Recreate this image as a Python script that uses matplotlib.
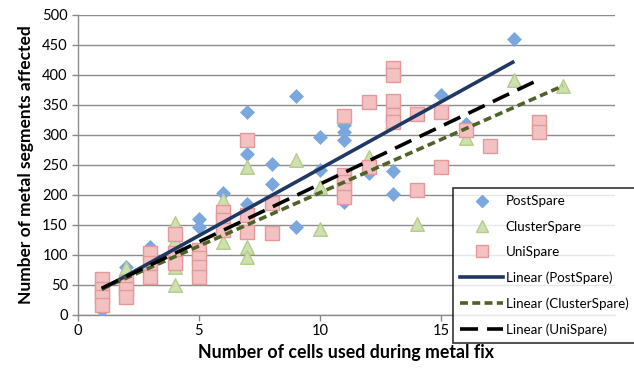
import numpy as np
import matplotlib
matplotlib.use("Agg")
import matplotlib.pyplot as plt
from matplotlib.lines import Line2D

plt.rcParams['font.family'] = ['Lato', 'DejaVu Sans']

# ---- data ----
post_x = [1, 2, 3, 3, 5, 5, 6, 7, 7, 7, 8, 8, 9, 9, 10, 10, 11, 11, 11, 11, 12, 13, 13, 15, 16, 18]
post_y = [8, 79, 113, 77, 160, 146, 202, 337, 268, 185, 251, 218, 364, 146, 296, 241, 316, 304, 291, 188, 236, 239, 201, 366, 318, 459]

clus_x = [1, 2, 4, 4, 4, 4, 6, 6, 7, 7, 7, 9, 10, 10, 11, 12, 14, 16, 18, 20]
clus_y = [45, 77, 152, 124, 80, 49, 191, 121, 246, 113, 96, 257, 213, 143, 200, 262, 151, 294, 391, 381]

uni_x = [1, 1, 1, 1, 2, 2, 2, 3, 3, 3, 4, 4, 4, 5, 5, 5, 5, 6, 6, 6, 7, 7, 7, 8, 8,
         11, 11, 11, 11, 11, 12, 12, 13, 13, 13, 13, 13, 14, 14, 15, 15, 16, 17, 19, 19]
uni_y = [60, 43, 29, 16, 54, 43, 30, 102, 86, 63, 135, 102, 86, 107, 94, 80, 63, 171, 158, 141, 291, 166, 138, 186, 136,
         331, 232, 221, 208, 196, 354, 246, 411, 399, 356, 332, 321, 334, 207, 337, 246, 307, 281, 321, 304]

# linear trendlines as shown in the reference: (slope, intercept)
post_trend = (22.35, 19.6)
clus_trend = (17.8, 25.0)
uni_trend = (19.3, 24.5)

series_names = ["PostSpare", "ClusterSpare", "UniSpare"]
x_ticks = [0, 5, 10, 15]          # the "20" tick sits under the legend
y_ticks = [0, 50, 100, 150, 200, 250, 300, 350, 400, 450, 500]

# ---- figure ----
W, H = 634, 371
fig = plt.figure(figsize=(W / 100, H / 100), dpi=100)
ax = fig.add_axes([77.5 / W, 1 - 314.5 / H, (615 - 77.5) / W, (314.5 - 14.5) / H])

c_post = "#7BA7DF"
c_clus_f, c_clus_e = "#CFE0B0", "#B5CC8A"
c_uni_f, c_uni_e = "#F3C1C1", "#E39A9A"

ax.scatter(post_x, post_y, marker="D", s=50, color=c_post, edgecolors=c_post, linewidths=0.5, zorder=3)
ax.scatter(clus_x, clus_y, marker="^", s=95, facecolor=c_clus_f, edgecolors=c_clus_e, linewidths=1, zorder=3)
ax.scatter(uni_x, uni_y, marker="s", s=95, facecolor=c_uni_f, edgecolors=c_uni_e, linewidths=1, zorder=3)

def trend(xs, coef):
    k, b = coef
    xx = np.array([min(xs), max(xs)], dtype=float)
    return xx, k * xx + b

lw = 2.6
xx, yy = trend(post_x, post_trend)
ax.plot(xx, yy, color="#1F3864", lw=lw, solid_capstyle="butt", zorder=4)
xx, yy = trend(clus_x, clus_trend)
ax.plot(xx, yy, color="#4F6228", lw=lw, dashes=(2.2, 1.2), zorder=4)
xx, yy = trend(uni_x, uni_trend)
ax.plot(xx, yy, color="black", lw=lw, dashes=(5, 2.5), zorder=4)

ax.set_xlim(0, 22.15)
ax.set_ylim(0, 500)
ax.set_xticks(x_ticks)
ax.set_yticks(y_ticks)
ax.tick_params(axis="both", labelsize=10.5, colors="black", length=4, width=1, direction="out", pad=3)
ax.tick_params(axis="both", color="#888888")
ax.grid(axis="y", color="#8C8C8C", lw=1)
ax.set_axisbelow(True)
for s in ["top", "right"]:
    ax.spines[s].set_visible(False)
for s in ["left", "bottom"]:
    ax.spines[s].set_color("#8C8C8C")
    ax.spines[s].set_linewidth(1)

ax.set_xlabel("Number of cells used during metal fix", fontsize=12.8, fontweight="bold", labelpad=4)
ax.set_ylabel("Number of metal segments affected", fontsize=12.5, fontweight="bold", labelpad=6)

handles = [
    Line2D([], [], ls="none", marker="D", ms=6, color=c_post),
    Line2D([], [], ls="none", marker="^", ms=8, markerfacecolor=c_clus_f, markeredgecolor=c_clus_e),
    Line2D([], [], ls="none", marker="s", ms=8, markerfacecolor=c_uni_f, markeredgecolor=c_uni_e),
    Line2D([], [], color="#1F3864", lw=lw),
    Line2D([], [], color="#4F6228", lw=lw, dashes=(2.2, 1.2)),
    Line2D([], [], color="black", lw=lw, dashes=(5, 2.5)),
]
labels = series_names + ["Linear (%s)" % n for n in series_names]
leg = fig.legend(handles, labels, loc="upper left",
                 bbox_to_anchor=(453 / W, 1 - 188 / H), fontsize=9.6,
                 frameon=True, fancybox=False, edgecolor="black",
                 handlelength=3.2, handletextpad=0.2, labelspacing=1.0,
                 borderpad=0.55, borderaxespad=0)
leg.get_frame().set_linewidth(1.2)
leg.set_zorder(10)

fig.savefig("out.png", dpi=100)
